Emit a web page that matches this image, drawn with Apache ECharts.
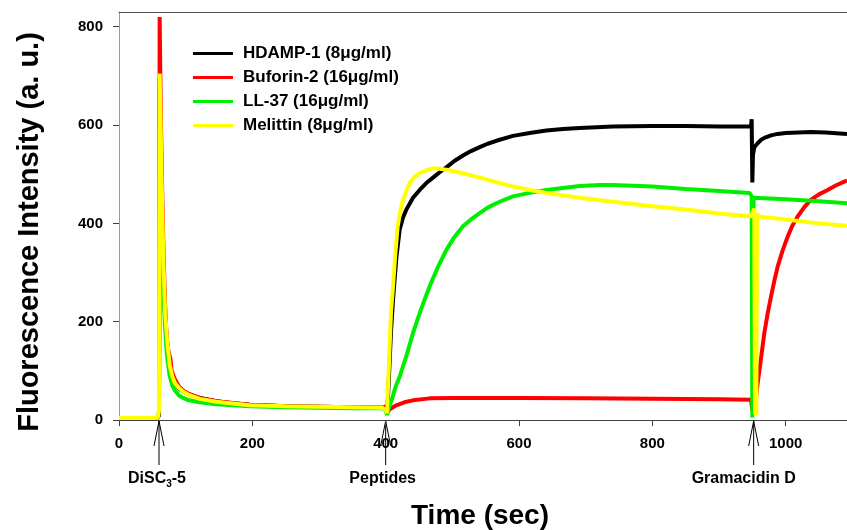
<!DOCTYPE html>
<html><head><meta charset="utf-8">
<script src="https://cdn.jsdelivr.net/npm/echarts@6/dist/echarts.min.js"></script>
<style>html,body{margin:0;padding:0;background:#fff}#c{width:847px;height:530px}</style>
</head><body><div id="c"></div>
<script>
const FONT = 'Arial, "Liberation Sans", sans-serif';

const seriesNames = ['HDAMP-1 (8\u03bcg/ml)', 'Buforin-2 (16\u03bcg/ml)', 'LL-37 (16\u03bcg/ml)', 'Melittin (8\u03bcg/ml)'];
const seriesColors = ['#000000', '#ff0000', '#00ee00', '#ffff00'];

// HDAMP-1
const hdampT = [0,58,60,61,62,63,65,67,69,72,76,80,84,90,96,105,121,146,170,196,250,300,350,395,400,402,404,408,411,416,421,426,431,441,451,461,471,481,491,503,516,528,541,553,566,591,616,641,666,691,741,800,850,900,948,949,950,951,953,958,963,970,978,988,1000,1038,1060,1092];
const hdampV = [4,4,10,695,560,480,380,290,215,160,110,85,74,64,58,52,45,38,34,31,28,27,26,25,22,14,60,180,244,330,387,412,428,452,468,482,493,504,514,527,538,547,555,562,568,578,584,589,592,594,597,598,598,597,597,612,483,540,555,563,570,575,579,582,584,586,585,582];

// Buforin-2
const buforinT = [0,58,60,61,62,63,65,67,69,71,73,75,77,79,83,90,96,105,121,146,196,250,300,350,395,400,402,406,416,428,441,466,500,600,700,800,900,948,950,952,955,958,963,968,973,978,983,988,995,1003,1010,1018,1028,1038,1050,1063,1075,1088,1092];
const buforinV = [4,4,12,820,700,600,450,330,240,180,150,135,125,100,85,68,60,53,45,38,31,28,27,26,25,28,14,22,30,36,40,44,45,45,44,43,42,41,20,15,40,75,125,177,217,251,283,312,343,373,395,414,433,448,459,468,477,485,487];

// LL-37
const llT = [0,58,60,61,62,63,65,67,69,72,76,80,84,90,96,105,121,146,196,250,300,350,395,400,402,405,410,415,421,431,441,453,466,478,491,503,516,528,541,553,566,578,591,616,641,666,691,721,741,800,850,900,946,949,950,951,952,955,1000,1050,1092];
const llV = [4,4,18,560,500,440,350,260,190,130,90,70,60,50,45,40,36,32,28,26,25,24,24,20,10,25,45,68,88,130,177,225,272,310,346,372,394,408,421,432,441,448,455,462,468,472,476,478,478,475,470,466,462,455,5,5,452,452,449,445,441];

// Melittin
const melT = [0,58,60,61,62,63,65,67,69,72,76,80,84,90,96,105,121,146,196,250,300,350,395,400,402,404,408,411,414,418,422,426,431,436,443,451,461,471,481,491,516,541,566,591,616,641,666,691,741,800,850,900,948,951,953,954,956,957,960,1000,1050,1092];
const melV = [4,4,20,705,640,560,420,310,225,165,112,88,75,65,58,51,43,37,30,28,27,26,25,20,14,80,220,271,330,394,425,448,466,482,494,502,508,512,511,509,502,493,484,475,468,462,457,452,444,435,428,420,414,418,430,15,10,420,414,408,400,395];

const xTicks = [0,200,400,600,800,1000];
const yTicks = [0,200,400,600,800];
const xMax = 1092, yMax = 830;

const eventTimes = [60, 400, 952];
const eventLabels = ['{b|DiSC}{s|3}{b|-5}', '{b|Peptides}', '{b|Gramacidin D}'];
const eventDx = [-2, -3, -10];

const zip = (t, v) => t.map((x, i) => [x, v[i]]);
const seriesData = [zip(hdampT, hdampV), zip(buforinT, buforinV), zip(llT, llV), zip(melT, melV)];

const chart = echarts.init(document.getElementById('c'), null, {renderer: 'canvas'});
const option = {
  animation: false,
  backgroundColor: '#ffffff',
  textStyle: {fontFamily: FONT},
  grid: {left: 119, right: 0, top: 12, bottom: 110},
  legend: {
    orient: 'vertical', left: 193, top: 45, padding: 0,
    icon: 'rect', itemWidth: 40, itemHeight: 3, itemGap: 7,
    textStyle: {fontFamily: FONT, fontWeight: 'bold', fontSize: 17, color: '#000', padding: [0,0,0,5]},
    data: seriesNames
  },
  xAxis: [{
    type: 'value', min: 0, max: xMax, position: 'bottom',
    axisLine: {show: true, lineStyle: {color: '#404040', width: 1}},
    axisTick: {show: true, length: 6, inside: false, customValues: xTicks, lineStyle: {color: '#404040'}},
    axisLabel: {customValues: xTicks, formatter: v => String(v), margin: 16, fontFamily: FONT, fontWeight: 'bold', fontSize: 15, color: '#000'},
    splitLine: {show: false}
  }, {
    type: 'value', min: 0, max: xMax, position: 'top',
    axisLine: {show: true, lineStyle: {color: '#505050', width: 1}},
    axisTick: {show: false}, axisLabel: {show: false}, splitLine: {show: false}
  }],
  yAxis: {
    type: 'value', min: 0, max: yMax,
    axisLine: {show: true, lineStyle: {color: '#9a9a9a', width: 1}},
    axisTick: {show: true, length: 6, customValues: yTicks, lineStyle: {color: '#404040'}},
    axisLabel: {customValues: yTicks, formatter: v => String(v), margin: 16, fontFamily: FONT, fontWeight: 'bold', fontSize: 15, color: '#000'},
    splitLine: {show: false}
  },
  series: seriesNames.map((n, i) => ({
    name: n, type: 'line', xAxisIndex: 0, data: seriesData[i], showSymbol: false, symbol: 'none',
    color: seriesColors[i], lineStyle: {color: seriesColors[i], width: 4}, z: 2 + i
  }))
};
chart.setOption(option);

const baseY = chart.convertToPixel({yAxisIndex: 0}, 0);
const graphics = [];
eventTimes.forEach((t, i) => {
  const px = chart.convertToPixel({xAxisIndex: 0}, t);
  graphics.push({type: 'polyline', shape: {points: [[px, baseY + 1], [px, baseY + 45]]}, style: {stroke: '#000', lineWidth: 1, fill: null}, silent: true});
  graphics.push({type: 'polyline', shape: {points: [[px - 5, baseY + 26], [px, baseY + 1], [px + 5, baseY + 26]]}, style: {stroke: '#000', lineWidth: 1, fill: null}, silent: true});
  graphics.push({type: 'text', x: px + eventDx[i], y: baseY + 59, style: {
    text: eventLabels[i], align: 'center', verticalAlign: 'middle',
    rich: {
      b: {fontFamily: FONT, fontWeight: 'bold', fontSize: 16, fill: '#000'},
      s: {fontFamily: FONT, fontWeight: 'bold', fontSize: 10, fill: '#000', padding: [10, 0, 0, 0]}
    }
  }, silent: true});
});
graphics.push({type: 'text', x: 30, y: 232, rotation: Math.PI / 2, style: {
  text: 'Fluorescence Intensity (a. u.)', align: 'center', verticalAlign: 'middle',
  fontFamily: FONT, fontWeight: 'bold', fontSize: 29, fill: '#000'}, silent: true});
graphics.push({type: 'text', x: 480, y: 516, style: {
  text: 'Time (sec)', align: 'center', verticalAlign: 'middle',
  fontFamily: FONT, fontWeight: 'bold', fontSize: 28, fill: '#000'}, silent: true});
chart.setOption({graphic: graphics});
</script></body></html>
